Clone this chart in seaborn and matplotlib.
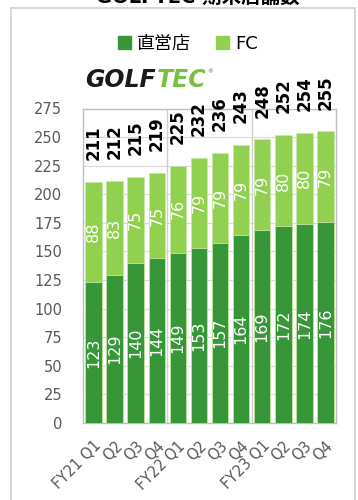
import matplotlib
matplotlib.use("Agg")
import matplotlib.pyplot as plt
import matplotlib.patches as mpatches
import seaborn as sns
import pandas as pd

categories = ["FY21 Q1", "FY21 Q2", "FY21 Q3", "FY21 Q4",
              "FY22 Q1", "FY22 Q2", "FY22 Q3", "FY22 Q4",
              "FY23 Q1", "FY23 Q2", "FY23 Q3", "FY23 Q4"]
tick_labels = ["FY21 Q1", "Q2", "Q3", "Q4", "FY22 Q1", "Q2", "Q3", "Q4",
               "FY23 Q1", "Q2", "Q3", "Q4"]
direct = [123, 129, 140, 144, 149, 153, 157, 164, 169, 172, 174, 176]
fc = [88, 83, 75, 75, 76, 79, 79, 79, 79, 80, 80, 79]
totals = [211, 212, 215, 219, 225, 232, 236, 243, 248, 252, 254, 255]
series_names = ["直営店", "FC"]
title_text = "GOLFTEC 期末店舗数"

DARK = "#379638"
LIGHT = "#92d050"
GRAY = "#595959"

sns.set_theme(style="white")
plt.rcParams["font.family"] = ["DejaVu Sans", "Noto Sans CJK JP"]

df = pd.DataFrame({"cat": categories, "direct": direct, "fc": fc, "total": totals})

fig = plt.figure(figsize=(3.58, 5.0), dpi=100)
ax = fig.add_axes([83/358, 1-423/500, (336-83)/358, (423-108.5)/500])

sns.barplot(data=df, x="cat", y="total", color=LIGHT, saturation=1, width=0.78,
            ax=ax, edgecolor="#c8e6a8", linewidth=0.6, zorder=3)
sns.barplot(data=df, x="cat", y="direct", color=DARK, saturation=1, width=0.78,
            ax=ax, edgecolor="#c8e6a8", linewidth=0.6, zorder=4)

ax.set_xlim(-0.5, 11.5)
ax.set_ylim(0, 275)
ax.set_yticks(range(0, 276, 25))
ax.yaxis.grid(True, color="#d9d9d9", lw=0.8, zorder=0)
ax.set_axisbelow(True)
for s in ax.spines.values():
    s.set_color("#bfbfbf")
    s.set_linewidth(1.0)
for xv in (3.5, 7.5):
    ax.axvline(xv, color="#d0d0d0", lw=1.0, zorder=1)

ax.set_xlabel("")
ax.set_ylabel("")
ax.tick_params(axis="y", labelsize=10.5, labelcolor=GRAY, length=0, pad=15)
ax.tick_params(axis="x", length=0, pad=11)
ax.set_xticks(range(len(categories)))
ax.set_xticklabels(tick_labels, rotation=45, ha="right", va="top",
                   rotation_mode="anchor", fontsize=10.5, color=GRAY)

for i, (d, f, t) in enumerate(zip(direct, fc, totals)):
    ax.text(i, d / 2, str(d), rotation=90, ha="center", va="center",
            color="white", fontsize=11.5, zorder=6)
    ax.text(i, d + f / 2, str(f), rotation=90, ha="center", va="center",
            color="white", fontsize=11.5, zorder=6)
    ax.text(i, t + 19, str(t), rotation=90, ha="center", va="bottom",
            color="black", fontsize=12, fontweight="bold", zorder=6,
            clip_on=False)

# legend
handles = [mpatches.Patch(color=DARK, label=series_names[0]),
           mpatches.Patch(color=LIGHT, label=series_names[1])]
fig.legend(handles=handles, loc="center", bbox_to_anchor=(0.525, 0.912), ncol=2,
           frameon=False, fontsize=13, handlelength=0.7, handleheight=0.7,
           handletextpad=0.35, columnspacing=1.4, labelcolor="black")

# logo
fig.canvas.draw()
renderer = fig.canvas.get_renderer()
t1 = fig.text(85/358, 1-87/500, "GOLF", fontsize=17, fontweight="heavy",
              style="italic", color="#1a1a1a", va="baseline", ha="left")
bb = t1.get_window_extent(renderer)
t2 = fig.text(bb.x1 / fig.bbox.width + 0.004, 1-87/500, "TEC", fontsize=17,
              fontweight="heavy", style="italic", color="#7ac143",
              va="baseline", ha="left")
bb2 = t2.get_window_extent(renderer)
fig.text(bb2.x1 / fig.bbox.width + 0.002, 1-72/500, "®", fontsize=4,
         color="#555555", va="center", ha="left")

# title (cut off at top, as in the reference)
fig.text(198/358, 1-3/500, title_text, fontsize=14, fontweight="bold",
         ha="center", va="baseline", color="black")

# outer frame
fig.patches.append(mpatches.Rectangle((11/358, -0.02), (355-11)/358, 1-8/500+0.02,
                                      transform=fig.transFigure, fill=False,
                                      edgecolor="#d0d0d0", lw=1.2))

fig.savefig("out.png", dpi=100)
